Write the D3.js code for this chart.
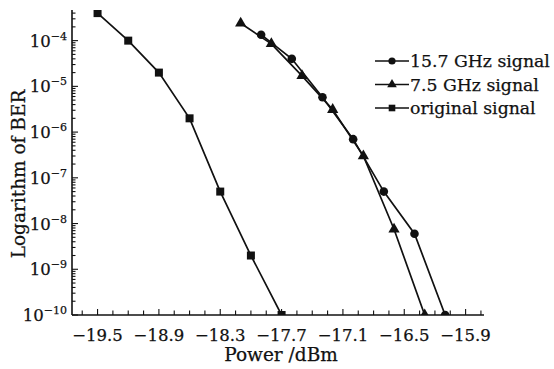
<!DOCTYPE html>
<html>
<head>
<meta charset="utf-8">
<script src="https://cdn.jsdelivr.net/npm/d3@7"></script>
<style>
  body { margin: 0; background: #fff; }
  text { font-family: "DejaVu Serif", serif; fill: #111; stroke: #111; stroke-width: 0.25px; }
</style>
</head>
<body>
<svg id="chart" width="554" height="369"></svg>
<script>
// power values (dBm) and BER
const powerOriginal = [-19.5, -19.2, -18.9, -18.6, -18.3, -18.0, -17.7];
const berOriginal = [4e-4, 1e-4, 2e-5, 2e-6, 5e-8, 2e-9, 1e-10];

const power157 = [-17.9, -17.6, -17.3, -17.0, -16.7, -16.4, -16.1];
const ber157 = [1.35e-4, 4e-5, 5.8e-6, 7e-7, 5e-8, 6e-9, 1e-10];

const power75 = [-18.1, -17.8, -17.5, -17.2, -16.9, -16.6, -16.3];
const ber75 = [2.4e-4, 8.5e-5, 1.7e-5, 3.1e-6, 3e-7, 7.5e-9, 1e-10];

const xTickLabels = [-19.5, -18.9, -18.3, -17.7, -17.1, -16.5, -15.9];
const yTickExps = [-4, -5, -6, -7, -8, -9, -10];

const seriesNames = ["15.7 GHz signal", "7.5 GHz signal", "original signal"];

const series = [
  { name: seriesNames[0], shape: "circle", xs: power157, ys: ber157 },
  { name: seriesNames[1], shape: "triangle", xs: power75, ys: ber75 },
  { name: seriesNames[2], shape: "square", xs: powerOriginal, ys: berOriginal },
];

const margin = { top: 10, left: 72, right: 70, bottom: 54 };
const width = 554, height = 369;

const x = d3.scaleLinear()
  .domain([-19.75, -15.72])
  .range([margin.left, 484]);
const y = d3.scaleLog()
  .domain([1e-10, Math.pow(10, -3.33)])
  .range([315, margin.top]);

const svg = d3.select("#chart");

svg.append("clipPath").attr("id", "plotclip")
  .append("rect")
  .attr("x", x.range()[0]).attr("y", y.range()[1])
  .attr("width", x.range()[1] - x.range()[0])
  .attr("height", y.range()[0] - y.range()[1]);

// x ticks every 0.15, labels every 0.6
const xMinor = d3.range(-19.65, -15.7, 0.15).map(v => +v.toFixed(2));
const xAxis = svg.append("g").attr("transform", `translate(0,${y.range()[0]})`);
xAxis.append("line")
  .attr("x1", x.range()[0]).attr("x2", x.range()[1])
  .attr("stroke", "#111").attr("stroke-width", 1.6);
xAxis.selectAll("line.tick")
  .data(xMinor)
  .join("line")
  .attr("class", "tick")
  .attr("x1", d => x(d)).attr("x2", d => x(d))
  .attr("y1", 0)
  .attr("y2", d => xTickLabels.some(v => Math.abs(v - d) < 1e-6) ? -6 : -4.5)
  .attr("stroke", "#111").attr("stroke-width", 1.1);
xAxis.selectAll("text")
  .data(xTickLabels)
  .join("text")
  .attr("x", d => x(d))
  .attr("y", 26)
  .attr("text-anchor", "middle")
  .style("font-size", "16.5px")
  .text(d => "\u2212" + Math.abs(d).toFixed(1));

// y axis: log, minor ticks 2..9
const yAxis = svg.append("g");
yAxis.append("line")
  .attr("x1", x.range()[0]).attr("x2", x.range()[0])
  .attr("y1", y.range()[1]).attr("y2", y.range()[0])
  .attr("stroke", "#111").attr("stroke-width", 1.6);
const yMinor = [];
for (let e = -10; e <= -4; e++) {
  for (let m = 1; m <= 9; m++) {
    const v = m * Math.pow(10, e);
    if (v >= y.domain()[0] && v <= y.domain()[1]) yMinor.push({ v, major: m === 1 });
  }
}
yAxis.selectAll("line.tick")
  .data(yMinor)
  .join("line")
  .attr("class", "tick")
  .attr("x1", x.range()[0])
  .attr("x2", d => x.range()[0] + (d.major ? 6 : 3.5))
  .attr("y1", d => y(d.v)).attr("y2", d => y(d.v))
  .attr("stroke", "#111").attr("stroke-width", 1.1);
const yLabels = yAxis.selectAll("text")
  .data(yTickExps)
  .join("text")
  .attr("x", x.range()[0] - 5)
  .attr("y", d => y(Math.pow(10, d)) + 6)
  .attr("text-anchor", "end")
  .style("font-size", "16.5px");
yLabels.append("tspan").text("10");
yLabels.append("tspan")
  .attr("dy", -7)
  .style("font-size", "11px")
  .text(d => "\u2212" + Math.abs(d));

// axis titles
svg.append("text")
  .attr("x", 281).attr("y", 361)
  .attr("text-anchor", "middle")
  .style("font-size", "18.5px")
  .text("Power /dBm");
svg.append("text")
  .attr("transform", `translate(25,174) rotate(-90)`)
  .attr("text-anchor", "middle")
  .style("font-size", "18.5px")
  .text("Logarithm of BER");

const line = d3.line().x(d => x(d[0])).y(d => y(d[1]));

function marker(g, shape) {
  if (shape === "circle") {
    g.append("circle").attr("r", 4.3).attr("fill", "#111");
  } else if (shape === "square") {
    g.append("rect").attr("x", -4).attr("y", -4).attr("width", 8).attr("height", 8).attr("fill", "#111");
  } else {
    g.append("path").attr("d", d3.symbol(d3.symbolTriangle, 55)()).attr("fill", "#111");
  }
}

const plot = svg.append("g").attr("clip-path", "url(#plotclip)");
series.forEach(s => {
  const pts = s.xs.map((v, i) => [v, s.ys[i]]);
  plot.append("path")
    .datum(pts)
    .attr("d", line)
    .attr("fill", "none")
    .attr("stroke", "#111")
    .attr("stroke-width", 1.7);
  pts.forEach(p => {
    const g = plot.append("g").attr("transform", `translate(${x(p[0])},${y(p[1])})`);
    marker(g, s.shape);
  });
});

// legend
const legend = svg.append("g").attr("transform", "translate(375,61)");
series.forEach((s, i) => {
  const row = legend.append("g").attr("transform", `translate(0,${i * 23.5})`);
  row.append("line")
    .attr("x1", 0).attr("x2", 34)
    .attr("stroke", "#111").attr("stroke-width", 1.6);
  const m = row.append("g").attr("transform", "translate(17,0)");
  if (s.shape === "circle") m.append("circle").attr("r", 3.6).attr("fill", "#111");
  else if (s.shape === "square") m.append("rect").attr("x", -3.3).attr("y", -3.3).attr("width", 6.6).attr("height", 6.6).attr("fill", "#111");
  else m.append("path").attr("d", d3.symbol(d3.symbolTriangle, 40)()).attr("fill", "#111");
  row.append("text")
    .attr("x", 35).attr("y", 6)
    .style("font-size", "17.3px")
    .text(s.name);
});
</script>
</body>
</html>
